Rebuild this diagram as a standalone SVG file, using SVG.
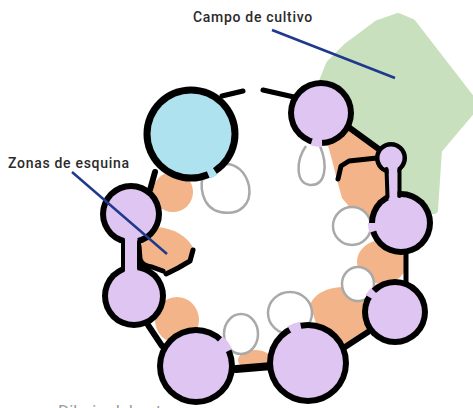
<svg xmlns="http://www.w3.org/2000/svg" width="473" height="408" viewBox="0 0 473 408">
  <style>
    .ring { fill: #000; }
    .lila { fill: #dfc5f2; }
    .agua { fill: #ade2ee; }
    .zona { fill: #f3b48a; }
    .burbuja { fill: #fff; stroke: #a9a9a9; stroke-width: 2.5; }
    .enlace { fill: none; stroke: #000; stroke-linecap: round; stroke-linejoin: round; }
    .hueco-lila { fill: none; stroke: #dfc5f2; stroke-width: 8; }
    .hueco-agua { fill: none; stroke: #ade2ee; stroke-width: 9; }
    .guia { stroke: #1f3a8c; stroke-width: 2.5; }
    .rotulo { font-family: Roboto, "Liberation Sans", Arial, sans-serif; font-weight: 500; font-size: 14px; letter-spacing: 0.7px; fill: #2b2b2b; }
    .credito { font-family: Roboto, "Liberation Sans", Arial, sans-serif; font-size: 17px; fill: #9a9a9a; }
  </style>

  <!-- crop field -->
  <g id="campo">
    <polygon points="322,84 330,64 347,47 378,24 398,17 412,23 470,98 470,112 438,150 434,210 415,212 360,150 322,110"
             fill="#c8e0be" stroke="#c8e0be" stroke-width="8" stroke-linejoin="round"/>
  </g>

  <!-- credit line, partly hidden behind the rooms -->
  <text class="credito" x="58" y="417">Dibujo del autor</text>

  <!-- corner zones -->
  <g id="zonas">
    <circle class="zona" cx="173" cy="192" r="20"/>
    <path class="zona" d="M137,245 C140,232 152,226 164,228 C180,231 190,240 194,250 L192,262 L170,275 L150,268 L139,258 Z"/>
    <ellipse class="zona" cx="177" cy="320" rx="22" ry="23"/>
    <ellipse class="zona" cx="255" cy="360" rx="17" ry="10"/>
    <path class="zona" d="M310,305 C315,292 330,287 345,287 L362,285 L372,300 L368,330 L345,345 L320,335 Z"/>
    <ellipse class="zona" cx="382" cy="262" rx="25" ry="22"/>
    <path class="zona" d="M325,135 L350,128 L378,150 L392,175 L392,205 L370,216 L352,210 L342,198 L337,180 L332,160 Z"/>
  </g>

  <!-- open patios -->
  <g id="patios">
    <path class="burbuja" d="M205,172 C198,185 202,208 220,212 C240,216 252,204 249,186 C246,172 236,163 224,164 C216,165 210,168 205,172 Z"/>
    <path class="burbuja" d="M306,146 C296,160 295,183 310,185 C326,186 328,165 320,146"/>
    <ellipse class="burbuja" cx="352" cy="226" rx="19" ry="19"/>
    <ellipse class="burbuja" cx="358" cy="284" rx="16" ry="17"/>
    <ellipse class="burbuja" cx="290" cy="313" rx="22" ry="21"/>
    <ellipse class="burbuja" cx="241" cy="334" rx="17" ry="20"/>
  </g>

  <!-- walls and links between rooms -->
  <g id="conectores">
    <line class="enlace" x1="222" y1="96" x2="243" y2="91" stroke-width="5"/>
    <line class="enlace" x1="263" y1="90" x2="294" y2="97" stroke-width="5"/>
    <line class="enlace" x1="155" y1="172" x2="150" y2="190" stroke-width="6"/>
    <line class="enlace" x1="347" y1="126" x2="380" y2="150" stroke-width="6"/>
    <polyline class="enlace" points="338,179 341,166 349,161 377,158" stroke-width="5"/>
    <line class="enlace" x1="406" y1="252" x2="406" y2="284" stroke-width="5"/>
    <line class="enlace" x1="345" y1="347" x2="368" y2="332" stroke-width="6"/>
    <line class="enlace" x1="236" y1="369" x2="272" y2="366" stroke-width="8" stroke-linecap="butt"/>
    <line class="enlace" x1="148" y1="325" x2="162" y2="346" stroke-width="6"/>
    <path class="enlace" d="M139,246 L140,259 Q142,266 152,267 L163,271 M166,274 L178,268 L190,261 L193,250" stroke-width="5"/>
  </g>

  <!-- rooms -->
  <g id="tanque">
    <circle class="ring" cx="191" cy="134" r="47.5"/>
    <circle class="agua" cx="191" cy="134" r="40.5"/>
    <path class="hueco-agua" d="M214.96,170.9 A44,44 0 0 1 208.2,174.5"/>
  </g>
  <g id="sala-norte">
    <circle class="ring" cx="321" cy="113" r="33"/>
    <circle class="lila" cx="321" cy="113" r="27"/>
    <path class="hueco-lila" d="M322.05,142.98 A30,30 0 0 1 311.73,141.53"/>
  </g>
  <g id="sala-pequena">
    <circle class="ring" cx="391" cy="158" r="16"/>
    <circle class="lila" cx="391" cy="158" r="11.5"/>
  </g>
  <g id="sala-este">
    <circle class="ring" cx="401" cy="223" r="32"/>
    <circle class="lila" cx="401" cy="223" r="26"/>
    <path class="hueco-lila" d="M373.27,231.48 A29,29 0 0 1 372,223"/>
  </g>
  <g id="paso-este">
    <rect x="388.5" y="165" width="9" height="35" class="lila"/>
    <line class="enlace" x1="386.5" y1="169" x2="387.5" y2="197" stroke-width="4"/>
    <line class="enlace" x1="399.5" y1="170" x2="399.5" y2="196" stroke-width="4"/>
  </g>
  <g id="sala-sureste">
    <circle class="ring" cx="395" cy="312" r="33"/>
    <circle class="lila" cx="395" cy="312" r="27"/>
    <path class="hueco-lila" d="M369.02,297 A30,30 0 0 1 373.79,290.79"/>
  </g>
  <g id="sala-sur-este">
    <circle class="ring" cx="308" cy="363" r="41"/>
    <circle class="lila" cx="308" cy="363" r="35"/>
    <path class="hueco-lila" d="M289.58,329.77 A38,38 0 0 1 300.75,325.7"/>
  </g>
  <g id="sala-sur-oeste">
    <circle class="ring" cx="196" cy="366" r="39"/>
    <circle class="lila" cx="196" cy="366" r="33"/>
    <path class="hueco-lila" d="M220.09,339.25 A36,36 0 0 1 228.63,350.79"/>
  </g>
  <g id="sala-oeste-baja">
    <circle class="ring" cx="134" cy="296" r="32"/>
    <circle class="lila" cx="134" cy="296" r="26"/>
  </g>
  <g id="sala-oeste-alta">
    <circle class="ring" cx="131" cy="214" r="31"/>
    <circle class="lila" cx="131" cy="214" r="25"/>
  </g>
  <g id="paso-oeste">
    <rect x="124.5" y="234" width="13" height="42" class="lila"/>
    <line class="enlace" x1="123" y1="240" x2="123" y2="270" stroke-width="4"/>
    <line class="enlace" x1="139" y1="242" x2="139" y2="268" stroke-width="4"/>
  </g>

  <!-- labels -->
  <g id="etiqueta-campo">
    <line class="guia" x1="272" y1="30" x2="395" y2="78"/>
    <text class="rotulo" x="193" y="22">Campo de cultivo</text>
  </g>
  <g id="etiqueta-zonas">
    <line class="guia" x1="72" y1="172" x2="167" y2="254"/>
    <text class="rotulo" x="8" y="168">Zonas de esquina</text>
  </g>
</svg>
